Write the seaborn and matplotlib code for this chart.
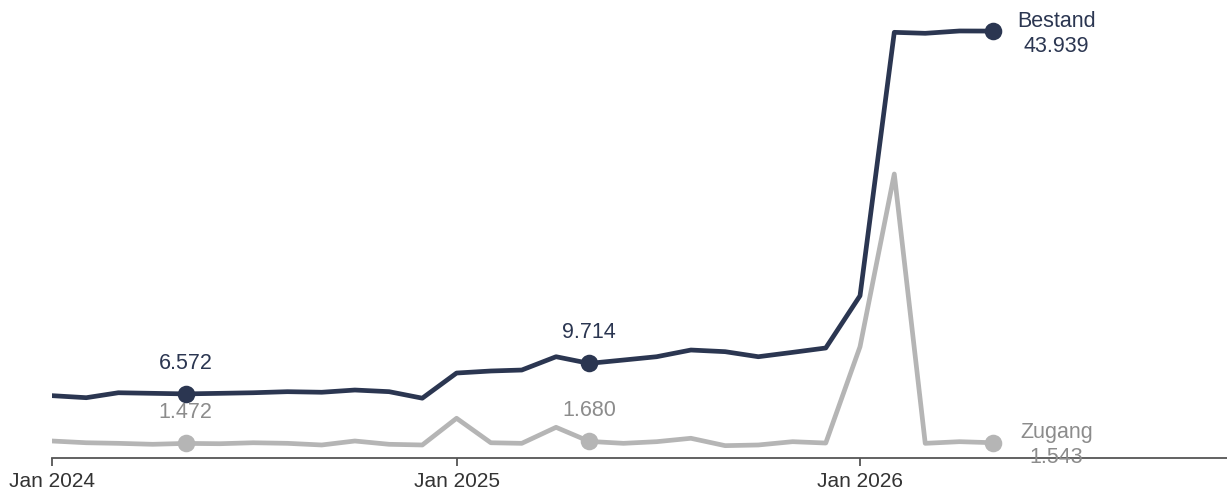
import matplotlib
matplotlib.use("Agg")
import matplotlib.pyplot as plt
import matplotlib.dates as mdates
import numpy as np
import pandas as pd
import seaborn as sns

# monthly values in thousands, Jan 2024 .. May 2026
months = pd.date_range("2024-01-01", "2026-05-01", freq="MS")
bestand = [6.39, 6.18, 6.69, 6.63, 6.572, 6.63, 6.69, 6.80, 6.74, 6.97, 6.80, 6.13,
           8.72, 8.93, 9.03, 10.40, 9.714, 10.06, 10.40, 11.09, 10.92, 10.40, 10.85, 11.30,
           16.68, 43.81, 43.71, 43.95, 43.939]
zugang = [1.72, 1.54, 1.48, 1.38, 1.472, 1.44, 1.54, 1.48, 1.31, 1.72, 1.38, 1.31,
          4.06, 1.54, 1.48, 3.13, 1.680, 1.48, 1.65, 2.00, 1.24, 1.31, 1.65, 1.51,
          11.43, 29.22, 1.48, 1.65, 1.543]
marked = [4, 16]  # May 2024, May 2025
series_names = ["Bestand", "Zugang"]
colors = {"Bestand": "#2b3651", "Zugang": "#b5b5b5"}
text_colors = {"Bestand": "#2b3651", "Zugang": "#8c8c8c"}

df = pd.DataFrame({"month": months, "Bestand": bestand, "Zugang": zugang})
long = df.melt(id_vars="month", var_name="serie", value_name="wert")

sns.set_style("white")
plt.rcParams["font.family"] = ["Liberation Sans", "DejaVu Sans"]

fig = plt.figure(figsize=(12.27, 4.93), dpi=100)
ax = fig.add_axes([52 / 1227, 35.3 / 493, 1 - 52 / 1227, 1 - 35.3 / 493])

sns.lineplot(data=long, x="month", y="wert", hue="serie", hue_order=series_names,
             palette=colors, linewidth=3.4, legend=False, ax=ax, zorder=2)


def fmt(v):
    return f"{v:.3f}"


for name in series_names:
    vals = df[name].to_numpy()
    pts = marked + [len(vals) - 1]
    ax.scatter(df["month"].iloc[pts], vals[pts], s=160, color=colors[name],
               zorder=3, linewidths=0)
    for i in marked:
        ax.annotate(fmt(vals[i]), (df["month"].iloc[i], vals[i]), xytext=(0, 22),
                    textcoords="offset points", ha="center", va="center",
                    fontsize=15.5, color=text_colors[name])
    last = len(vals) - 1
    ax.annotate(f"{name}\n{fmt(vals[last])}", (df["month"].iloc[last], vals[last]),
                xytext=(46, -2), textcoords="offset points", ha="center", va="center",
                fontsize=15.5, color=text_colors[name], linespacing=1.25)

ax.set_ylim(0, 47.14)
ax.set_xlim(pd.Timestamp("2024-01-01"), pd.Timestamp("2026-11-29"))
ax.xaxis.set_major_locator(mdates.YearLocator())
ax.xaxis.set_major_formatter(mdates.DateFormatter("Jan %Y"))
ax.set_yticks([])
ax.set_xlabel("")
ax.set_ylabel("")
for side in ["top", "right", "left"]:
    ax.spines[side].set_visible(False)
ax.spines["bottom"].set_color("#555555")
ax.spines["bottom"].set_linewidth(1.3)
ax.tick_params(axis="x", direction="out", length=6, width=1.3, color="#555555",
               labelsize=15, labelcolor="#333333", pad=4, bottom=True)
for lab in ax.get_xticklabels():
    lab.set_clip_on(False)

fig.savefig("out.png", dpi=100)
